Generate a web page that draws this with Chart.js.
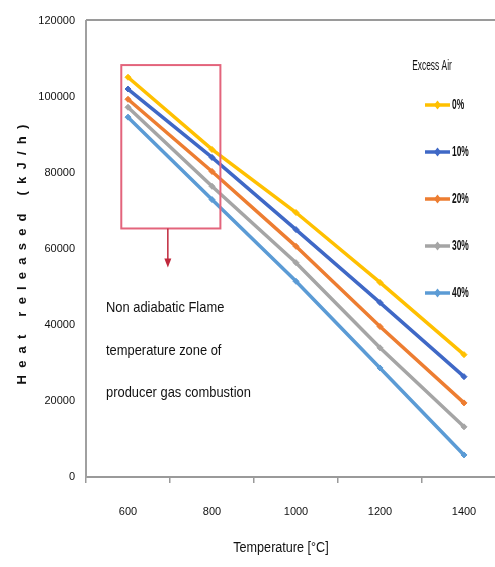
<!DOCTYPE html>
<html>
<head>
<meta charset="utf-8">
<script src="https://cdn.jsdelivr.net/npm/chart.js@4.4.1/dist/chart.umd.min.js"></script>
<style>
  html, body { margin: 0; padding: 0; background: #fff; overflow: hidden; }
  #wrap { width: 520px; height: 567px; }
</style>
</head>
<body>
<div id="wrap"><canvas id="c" width="520" height="567"></canvas></div>
<script>
// Flame temperature categories (°C)
const temperatures = ['600', '800', '1000', '1200', '1400'];

// Heat released (kJ/h) for each excess-air level
const excessAir0  = [105200, 86200, 69600, 51200, 32200];
const excessAir10 = [102100, 84100, 65100, 45900, 26400];
const excessAir20 = [99400, 80400, 60700, 39600, 19500];
const excessAir30 = [97300, 76500, 56400, 34000, 13200];
const excessAir40 = [94700, 73000, 51500, 28700, 5800];

const seriesLabels = ['0%', '10%', '20%', '30%', '40%'];
const seriesColors = ['#FFC000', '#3F68C6', '#ED7D31', '#A5A5A5', '#5B9BD5'];

// Highlighted zone (category index range, heat range)
const zoneX = [-0.08, 1.1];
const zoneY = [65400, 108400];
const zoneText = ['Non adiabatic Flame', 'temperature zone of', 'producer gas combustion'];

const sans = "'Liberation Sans', Arial, sans-serif";

const seriesData = [excessAir0, excessAir10, excessAir20, excessAir30, excessAir40];
const datasets = seriesData.map((d, i) => ({
  label: seriesLabels[i],
  data: d,
  borderColor: seriesColors[i],
  backgroundColor: seriesColors[i],
  borderWidth: 3.5,
  pointStyle: 'rectRot',
  pointRadius: 3,
  pointBorderWidth: 1,
  tension: 0,
  fill: false
}));

// condensed text: squeeze horizontally around the anchor point
function narrowText(ctx, text, x, y, font, align, squeeze) {
  ctx.save();
  ctx.translate(x, y);
  ctx.scale(squeeze, 1);
  ctx.font = font;
  ctx.textAlign = align;
  ctx.textBaseline = 'middle';
  ctx.fillText(text, 0, 0);
  ctx.restore();
}

// Frame, annotation, titles and legend
const decor = {
  id: 'decor',
  afterDraw(chart) {
    const ctx = chart.ctx;
    const a = chart.chartArea;
    const xs = chart.scales.x, ys = chart.scales.y;
    ctx.save();

    // top edge of the plot frame
    ctx.strokeStyle = '#9a9a9a';
    ctx.lineWidth = 2;
    ctx.beginPath();
    ctx.moveTo(a.left, a.top - 1);
    ctx.lineTo(a.right, a.top - 1);
    ctx.stroke();

    // zone box
    const x0 = xs.getPixelForValue(zoneX[0]);
    const x1 = xs.getPixelForValue(zoneX[1]);
    const y0 = ys.getPixelForValue(zoneY[1]);
    const y1 = ys.getPixelForValue(zoneY[0]);
    ctx.strokeStyle = '#E3647C';
    ctx.lineWidth = 2;
    ctx.strokeRect(x0, y0, x1 - x0, y1 - y0);

    // arrow below the box
    const ax = (x0 + x1) / 2 - 3;
    ctx.strokeStyle = '#C0283C';
    ctx.fillStyle = '#C0283C';
    ctx.lineWidth = 1.5;
    ctx.beginPath();
    ctx.moveTo(ax, y1);
    ctx.lineTo(ax, y1 + 32);
    ctx.stroke();
    ctx.beginPath();
    ctx.moveTo(ax - 3.5, y1 + 30);
    ctx.lineTo(ax + 3.5, y1 + 30);
    ctx.lineTo(ax, y1 + 39);
    ctx.closePath();
    ctx.fill();

    // zone caption
    ctx.fillStyle = '#111';
    const tx = a.left + 20;
    [308, 351, 393].forEach((y, i) =>
      narrowText(ctx, zoneText[i], tx, y, '15px ' + sans, 'left', 0.86));

    // axis titles
    narrowText(ctx, 'Temperature [°C]', 281, 548, '14px ' + sans, 'center', 0.9);

    ctx.save();
    ctx.translate(22, 251);
    ctx.rotate(-Math.PI / 2);
    ctx.font = 'bold 13px ' + sans;
    ctx.letterSpacing = '7.2px';
    ctx.fillStyle = '#111';
    ctx.textAlign = 'center';
    ctx.textBaseline = 'middle';
    ctx.fillText('Heat released (kJ/h)', 0, 0);
    ctx.restore();

    // legend
    ctx.fillStyle = '#111';
    narrowText(ctx, 'Excess Air', 432, 66, '14px ' + sans, 'center', 0.6);
    chart.data.datasets.forEach((ds, i) => {
      const y = 105 + i * 47;
      ctx.strokeStyle = ds.borderColor;
      ctx.lineWidth = 3.5;
      ctx.beginPath();
      ctx.moveTo(425, y);
      ctx.lineTo(450, y);
      ctx.stroke();
      ctx.fillStyle = ds.borderColor;
      ctx.beginPath();
      ctx.moveTo(437.5, y - 4.5);
      ctx.lineTo(441, y);
      ctx.lineTo(437.5, y + 4.5);
      ctx.lineTo(434, y);
      ctx.closePath();
      ctx.fill();
      ctx.fillStyle = '#111';
      narrowText(ctx, ds.label, 452, y, 'bold 14px ' + sans, 'left', 0.6);
    });

    ctx.restore();
  }
};

new Chart(document.getElementById('c'), {
  type: 'line',
  data: { labels: temperatures, datasets },
  options: {
    responsive: false,
    animation: false,
    devicePixelRatio: 1,
    layout: { padding: { top: 21, right: 14, left: 0, bottom: 0 } },
    plugins: { legend: { display: false }, tooltip: { enabled: false } },
    scales: {
      x: {
        type: 'category',
        offset: true,
        grid: { drawOnChartArea: false, offset: true, tickLength: 6, color: '#9a9a9a', lineWidth: 1.5 },
        border: { display: true, color: '#9a9a9a', width: 2 },
        ticks: { padding: 22, color: '#111', font: { family: sans, size: 11 }, maxRotation: 0 },
        afterFit(s) { s.height = 90; }
      },
      y: {
        min: 0,
        max: 120000,
        grid: { display: false },
        border: { display: true, color: '#a0a0a0', width: 2 },
        ticks: {
          stepSize: 20000, padding: 3, color: '#111',
          font: { family: sans, size: 11 },
          callback: (v) => String(v)
        },
        afterFit(s) { s.width = 86; }
      }
    }
  },
  plugins: [decor]
});
</script>
</body>
</html>
